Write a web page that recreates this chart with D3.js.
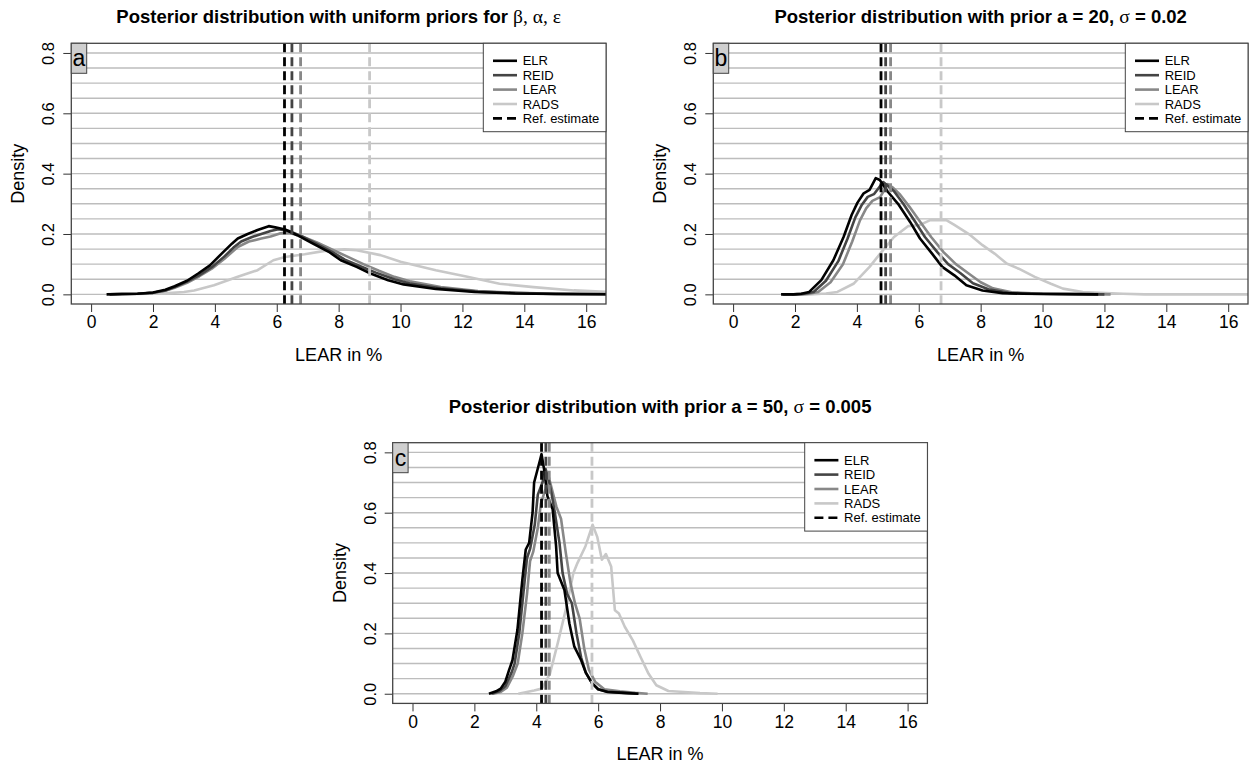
<!DOCTYPE html>
<html>
<head>
<meta charset="utf-8">
<script src="https://cdn.jsdelivr.net/npm/d3@7"></script>
<style>
  body { margin: 0; background: #fff; }
  svg { font-family: "Liberation Sans", Arial, Helvetica, sans-serif; }
</style>
</head>
<body>
<svg id="chart" width="1252" height="770"></svg>
<script>
//------ Données ------
const seriesNames = ["ELR", "REID", "LEAR", "RADS"]
const xTicks = [0, 2, 4, 6, 8, 10, 12, 14, 16]
const yTicks = [0, 0.2, 0.4, 0.6, 0.8]
const gridValues = d3.range(0, 0.801, 0.05)

// panel a : uniform priors
const a_ELR = [[0.5,0],[1.0,0.001],[1.5,0.002],[2.0,0.006],[2.4,0.015],[2.7,0.027],[3.1,0.045],[3.46,0.069],[3.84,0.096],[4.22,0.135],[4.55,0.168],[4.74,0.185],[5.06,0.2],[5.38,0.213],[5.74,0.226],[5.95,0.222],[6.27,0.215],[6.66,0.196],[7.17,0.168],[7.68,0.141],[8.07,0.113],[8.58,0.091],[9.03,0.069],[9.6,0.047],[10.1,0.033],[11.14,0.018],[12.4,0.008],[13.7,0.003],[15,0.001],[16.7,0.0005]]
const a_REID = [[0.6,0],[1.0,0.001],[1.5,0.002],[2.0,0.005],[2.4,0.013],[2.7,0.024],[3.1,0.042],[3.5,0.064],[3.9,0.09],[4.3,0.125],[4.6,0.155],[4.85,0.175],[5.2,0.19],[5.5,0.2],[5.8,0.21],[6.05,0.216],[6.4,0.21],[6.8,0.193],[7.3,0.167],[7.8,0.14],[8.2,0.115],[8.7,0.093],[9.2,0.072],[9.8,0.05],[10.3,0.036],[11.3,0.02],[12.5,0.009],[13.8,0.004],[15,0.0015],[16.7,0.0005]]
const a_LEAR = [[0.6,0],[1.0,0.001],[1.5,0.002],[2.0,0.005],[2.4,0.012],[2.7,0.022],[3.1,0.038],[3.5,0.06],[3.9,0.085],[4.3,0.117],[4.74,0.157],[5.1,0.175],[5.5,0.185],[5.8,0.192],[6.1,0.202],[6.4,0.203],[6.8,0.193],[7.3,0.172],[7.8,0.148],[8.3,0.124],[8.8,0.1],[9.3,0.078],[9.8,0.058],[10.3,0.043],[11.3,0.024],[12.5,0.011],[13.8,0.005],[15,0.002],[16.7,0.001]]
const a_RADS = [[0.6,0],[1.5,0.001],[2.5,0.004],[3.0,0.008],[3.33,0.013],[3.97,0.03],[4.74,0.058],[5.38,0.08],[5.89,0.113],[6.27,0.124],[6.9,0.133],[7.55,0.144],[8.19,0.149],[8.58,0.146],[9.35,0.13],[10.0,0.108],[11.14,0.08],[12.16,0.058],[13.2,0.035],[14.3,0.024],[15.6,0.013],[16.7,0.008]]
const a_ref = [6.25, 6.49, 6.77, 9.0]

// panel b : prior a = 20
const b_ELR = [[1.55,0],[1.94,0],[2.2,0.002],[2.46,0.008],[2.85,0.047],[3.24,0.113],[3.57,0.19],[3.83,0.263],[4.02,0.304],[4.22,0.335],[4.41,0.346],[4.61,0.385],[4.74,0.379],[5.0,0.34],[5.33,0.3],[5.72,0.24],[6.04,0.185],[6.43,0.135],[6.76,0.091],[7.15,0.063],[7.54,0.03],[8.06,0.013],[8.71,0.004],[9.36,0.002],[11.8,0]]
const b_REID = [[1.6,0],[2.0,0],[2.3,0.002],[2.6,0.008],[3.0,0.045],[3.4,0.11],[3.7,0.185],[3.95,0.255],[4.15,0.295],[4.35,0.323],[4.55,0.332],[4.85,0.372],[5.0,0.36],[5.2,0.342],[5.5,0.3],[5.9,0.238],[6.2,0.19],[6.6,0.14],[6.95,0.1],[7.35,0.07],[7.75,0.037],[8.25,0.017],[8.9,0.005],[9.6,0.002],[12,0]]
const b_LEAR = [[1.9,0],[2.2,0],[2.45,0.002],[2.75,0.008],[3.15,0.04],[3.55,0.1],[3.85,0.175],[4.1,0.245],[4.3,0.285],[4.5,0.31],[4.75,0.322],[5.0,0.365],[5.15,0.355],[5.4,0.33],[5.7,0.29],[6.05,0.24],[6.4,0.19],[6.8,0.14],[7.2,0.1],[7.6,0.07],[8.0,0.04],[8.4,0.02],[9.0,0.007],[10,0.002],[12.2,0]]
const b_RADS = [[1.9,0],[2.46,0],[3.0,0.003],[3.37,0.008],[3.89,0.035],[4.41,0.091],[4.8,0.141],[5.2,0.19],[5.65,0.226],[6.04,0.23],[6.37,0.246],[6.89,0.246],[7.15,0.23],[7.67,0.196],[8.06,0.163],[8.45,0.135],[8.84,0.102],[9.23,0.085],[9.75,0.058],[10.27,0.035],[10.66,0.019],[11.3,0.008],[12.6,0.002],[13.3,0],[16.7,0]]
const b_ref = [4.78, 4.93, 5.09, 6.72]

// panel c : prior a = 50
const c_ELR = [[2.47,0],[2.7,0.008],[2.85,0.017],[3.0,0.04],[3.12,0.078],[3.23,0.111],[3.39,0.211],[3.55,0.378],[3.66,0.478],[3.77,0.5],[3.88,0.6],[3.93,0.7],[4.13,0.778],[4.17,0.794],[4.26,0.739],[4.36,0.655],[4.53,0.611],[4.64,0.489],[4.69,0.4],[4.91,0.344],[5.07,0.233],[5.23,0.156],[5.45,0.111],[5.6,0.07],[5.8,0.035],[6.0,0.015],[6.3,0.006],[6.8,0.003],[7.3,0]]
const c_REID = [[2.55,0],[2.8,0.008],[3.0,0.025],[3.2,0.07],[3.3,0.1],[3.45,0.2],[3.6,0.35],[3.7,0.45],[3.8,0.48],[3.95,0.56],[4.05,0.66],[4.2,0.7],[4.3,0.745],[4.4,0.71],[4.5,0.66],[4.6,0.6],[4.75,0.5],[4.85,0.4],[5.0,0.33],[5.15,0.3],[5.3,0.2],[5.45,0.12],[5.6,0.07],[5.8,0.035],[6.0,0.015],[6.3,0.007],[7.0,0.002],[7.3,0]]
const c_LEAR = [[2.6,0],[2.85,0.006],[3.05,0.02],[3.25,0.06],[3.4,0.1],[3.55,0.2],[3.7,0.33],[3.8,0.44],[3.9,0.47],[4.05,0.55],[4.15,0.63],[4.3,0.68],[4.4,0.72],[4.5,0.68],[4.65,0.62],[4.8,0.58],[4.95,0.47],[5.1,0.37],[5.25,0.3],[5.4,0.25],[5.55,0.15],[5.7,0.08],[5.9,0.04],[6.2,0.015],[6.7,0.008],[7.2,0.003],[7.6,0]]
const c_RADS = [[3.42,0],[3.93,0.011],[4.18,0.017],[4.44,0.066],[4.69,0.166],[4.95,0.277],[5.2,0.4],[5.33,0.433],[5.59,0.489],[5.82,0.56],[5.97,0.52],[6.12,0.444],[6.25,0.463],[6.42,0.422],[6.54,0.277],[6.67,0.266],[6.86,0.222],[7.12,0.177],[7.37,0.122],[7.63,0.066],[7.88,0.028],[8.27,0.009],[8.78,0.006],[9.29,0.002],[9.86,0]]
const c_ref = [4.17, 4.31, 4.42, 5.8]

//------ Style ------
const colors = ["#000000", "#444444", "#888888", "#c8c8c8"]
const W = 534.7, H = 260.7

const panels = [
  { id: "a", left: 71.3, top: 43.3, titleY: 23, curves: [a_ELR, a_REID, a_LEAR, a_RADS], refs: a_ref,
    title: ["Posterior distribution with uniform priors for ", "β, α, ε", ""] },
  { id: "b", left: 713.3, top: 43.3, titleY: 23, curves: [b_ELR, b_REID, b_LEAR, b_RADS], refs: b_ref,
    title: ["Posterior distribution with prior a = 20, ", "σ", " = 0.02"] },
  { id: "c", left: 392.7, top: 442.7, titleY: 413, curves: [c_ELR, c_REID, c_LEAR, c_RADS], refs: c_ref,
    title: ["Posterior distribution with prior a = 50, ", "σ", " = 0.005"] }
]

const svg = d3.select("#chart")

const x = d3.scaleLinear().domain([-0.64, 16.64]).range([0, W])
const y = d3.scaleLinear().domain([-0.032, 0.832]).range([H, 0])

const line = d3.line().x(d => x(d[0])).y(d => y(d[1]))

panels.forEach(p => {
  const g = svg.append("g").attr("transform", `translate(${p.left},${p.top})`)

  // clip
  svg.append("clipPath").attr("id", "clip-" + p.id)
    .append("rect").attr("x", p.left).attr("y", p.top).attr("width", W).attr("height", H)

  // titre
  const t = svg.append("text")
    .attr("x", p.left + W / 2).attr("y", p.titleY)
    .attr("text-anchor", "middle")
    .attr("font-size", 18.5).attr("font-weight", "bold")
  t.append("tspan").text(p.title[0])
  t.append("tspan").attr("font-family", "'Liberation Serif', 'DejaVu Serif', serif")
    .attr("font-weight", "normal").attr("font-size", 19.5).text(p.title[1])
  t.append("tspan").text(p.title[2])

  // grille
  g.selectAll(".grid").data(gridValues).enter().append("line")
    .attr("x1", 0).attr("x2", W)
    .attr("y1", d => y(d)).attr("y2", d => y(d))
    .attr("stroke", "#bdbdbd").attr("stroke-width", 1.4)

  // courbes (ELR au dessus)
  const cg = g.append("g").attr("clip-path", `url(#clip-${p.id})`)
    .attr("transform", `translate(${-p.left},${-p.top})`)
  const inner = cg.append("g").attr("transform", `translate(${p.left},${p.top})`)
  for (let i = 3; i >= 0; i--) {
    inner.append("path").datum(p.curves[i])
      .attr("d", line)
      .attr("fill", "none")
      .attr("stroke", colors[i])
      .attr("stroke-width", 2.6)
      .attr("stroke-linejoin", "round")
  }

  // lignes de référence
  p.refs.forEach((v, i) => {
    g.append("line")
      .attr("x1", x(v)).attr("x2", x(v))
      .attr("y1", 0).attr("y2", H)
      .attr("stroke", colors[i]).attr("stroke-width", 2.8)
      .attr("stroke-dasharray", "9,5")
  })

  // axes
  const xa = g.append("g").attr("transform", `translate(0,${H})`)
    .call(d3.axisBottom(x).tickValues(xTicks).tickSize(8).tickSizeOuter(0).tickPadding(4))
  xa.select(".domain").remove()
  xa.selectAll("line").attr("stroke", "#333")
  xa.selectAll("text").attr("font-size", 17.5).attr("fill", "#000")
    .attr("font-family", "'Liberation Sans', Arial, sans-serif")

  const ya = g.append("g")
    .call(d3.axisLeft(y).tickValues(yTicks).tickSize(8).tickSizeOuter(0).tickFormat(d3.format(".1f")))
  ya.select(".domain").remove()
  ya.selectAll("line").attr("stroke", "#333")
  ya.selectAll("text")
    .attr("font-size", 16.5).attr("fill", "#000")
    .attr("font-family", "'Liberation Sans', Arial, sans-serif")
    .attr("text-anchor", "middle").attr("dy", null)
    .attr("x", null)
    .attr("transform", "translate(-17,0) rotate(-90)")

  // cadre
  g.append("rect").attr("width", W).attr("height", H)
    .attr("fill", "none").attr("stroke", "#444").attr("stroke-width", 1.3)

  // titres des axes
  g.append("text").attr("x", W / 2).attr("y", H + 57)
    .attr("text-anchor", "middle").attr("font-size", 18).text("LEAR in %")
  g.append("text").attr("transform", `translate(-47,${H / 2}) rotate(-90)`)
    .attr("text-anchor", "middle").attr("font-size", 18).text("Density")

  // lettre du panneau
  g.append("rect").attr("width", 15.4).attr("height", 30)
    .attr("fill", "#cfcfcf").attr("stroke", "#444").attr("stroke-width", 1)
  g.append("text").attr("x", 7.7).attr("y", 23).attr("text-anchor", "middle")
    .attr("font-size", 23).text(p.id)

  // légende
  const lw = 122.7, lx = W - lw
  const lg = g.append("g").attr("transform", `translate(${lx},0)`)
  lg.append("rect").attr("width", lw).attr("height", 88.4)
    .attr("fill", "#fff").attr("stroke", "#444").attr("stroke-width", 1)
  const labels = seriesNames.concat(["Ref. estimate"])
  labels.forEach((name, i) => {
    const ly = 17.5 + i * 14.4
    lg.append("line").attr("x1", 9.7).attr("x2", 33.7).attr("y1", ly).attr("y2", ly)
      .attr("stroke", i < 4 ? colors[i] : "#000").attr("stroke-width", 2.6)
      .attr("stroke-dasharray", i < 4 ? null : "9,5")
    lg.append("text").attr("x", 39.4).attr("y", ly + 4.6)
      .attr("font-size", 13).text(name)
  })
})
</script>
</body>
</html>
